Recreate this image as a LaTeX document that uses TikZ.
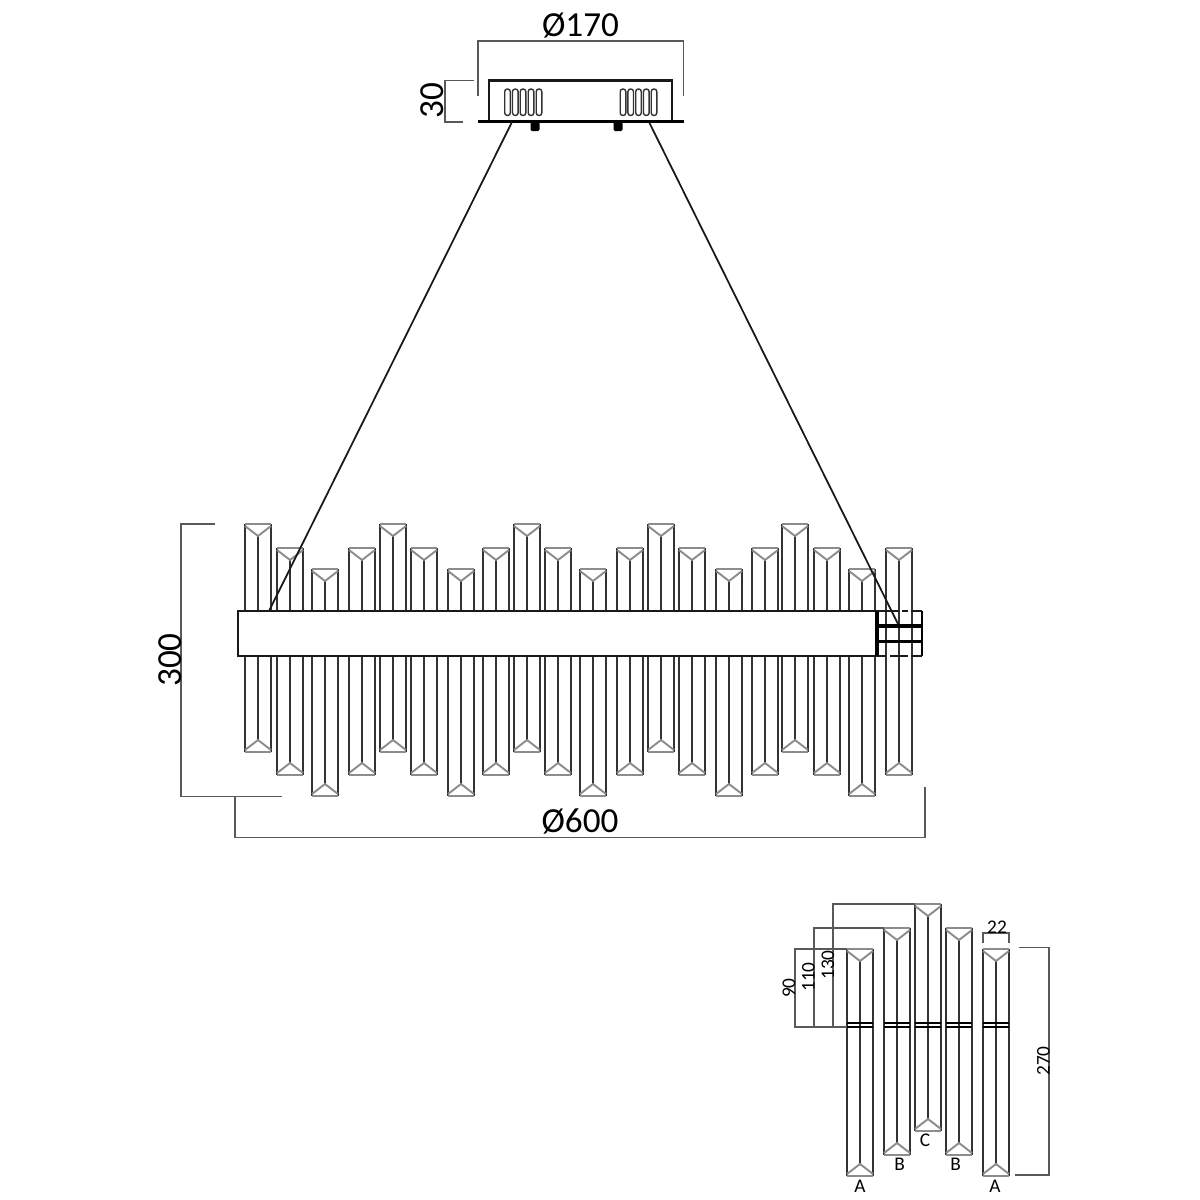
\documentclass[tikz,border=0pt]{standalone}
\usepackage{fontspec}
\setmainfont{Carlito}

% one crystal: left edge, top, bottom
\newcommand{\crystalRod}[3]{
  \draw[rodsty] (#1,#2) -- (#1,#3);
  \draw[rodsty] (#1+26,#2) -- (#1+26,#3);
  \draw[rodsty] (#1+13,#2+12) -- (#1+13,#3-12);
  \draw[tipsty] (#1,#2) -- (#1+26,#2);
  \draw[tipsty] (#1,#3) -- (#1+26,#3);
  \draw[tipsty] (#1,#2+2) -- (#1+13,#2+12) -- (#1+26,#2+2);
  \draw[tipsty] (#1,#3-2) -- (#1+13,#3-12) -- (#1+26,#3-2);
}

\begin{document}
\begin{tikzpicture}[
  x=0.01cm, y=-0.01cm,
  rodsty/.style={draw=black!80, line width=0.5pt},
  tipsty/.style={draw=black!45, line width=0.55pt},
  hubsty/.style={fill=white, draw=black!90, line width=0.6pt},
  thicksty/.style={draw=black, line width=1pt},
  cablesty/.style={draw=black!90, line width=0.5pt},
  dimsty/.style={draw=black!65, line width=0.45pt},
  bigtext/.style={font=\fontsize{10}{12}\selectfont, inner sep=0pt},
  smalltext/.style={font=\fontsize{5.5}{6}\selectfont, inner sep=0pt}]

\useasboundingbox (0,0) rectangle (1200,1200);

% long rods of the lamp
\foreach \rx/\rtop/\rbot in {245/524/752, 277/548/775, 312/569/796, 349/548/775, 380/524/752,
  411/548/775, 448/569/796, 483/548/775, 514/524/752, 545/548/775, 580/569/796, 617/548/775,
  648/524/752, 679/548/775, 716/569/796, 752/548/775, 782/524/752, 814/548/775, 849/569/796,
  886/548/775}
  {\crystalRod{\rx}{\rtop}{\rbot}}

% hub
\draw[hubsty] (238,611) rectangle (877,656);
\draw[thicksty] (877,611) -- (877,656);
\draw[thicksty, line width=0.8pt] (922,611) -- (922,656);
\draw[thicksty] (877,626) -- (922,626);
\draw[thicksty] (877,641.5) -- (922,641.5);
\draw[hubsty] (877,611) -- (899,611) (902,611) -- (908,611) (911,611) -- (922,611);
\draw[hubsty] (877,656) -- (886,656) (890,656) -- (908,656) (911,656) -- (922,656);

% ceiling plate
\draw[hubsty] (489,121) -- (489,80.5) -- (672,80.5) -- (672,121);
\draw[line width=1.1pt] (477.5,121.5) -- (684,121.5);
\foreach \sx in {507.5,515.3,523,531,539,623,630.7,638.5,646.3,654}
  {\draw[rodsty, rounded corners=0.75pt, line width=0.4pt] (\sx-2.8,89) rectangle (\sx+2.8,115.5);}
\foreach \kx in {535,618}
  {\fill[black, rounded corners=0.4pt] (\kx-4.5,122) rectangle (\kx+4.5,131);}

% cables
\draw[cablesty] (512,122) -- (269,611);
\draw[cablesty] (649,122) -- (898,624);

% dimensions of the lamp
\draw[dimsty] (478,96) -- (478,41) -- (683.5,41) -- (683.5,96);
\node[bigtext] (dia170) at (580.5,26) {Ø170};
\draw[dimsty] (474,80.5) -- (445,80.5) -- (445,122) -- (463,122);
\node[bigtext, rotate=90] (ht30) at (432,101) {30};
\draw[dimsty] (215,524) -- (181,524) -- (181,796.5) -- (282,796.5);
\node[bigtext, rotate=90] (ht300) at (170,660) {300};
\draw[dimsty] (235,796.5) -- (235,837.5) -- (925,837.5) -- (925,787);
\node[bigtext] (dia600) at (580,821) {Ø600};

% detail of the rods
\foreach \rx/\rtop/\rbot in {847/949/1176, 884/928/1155, 915/904/1131, 946/928/1155, 983/949/1176}
  {\crystalRod{\rx}{\rtop}{\rbot}
   \draw[thicksty, line width=0.8pt] (\rx,1023) -- (\rx+26,1023);
   \draw[thicksty, line width=0.8pt] (\rx,1027) -- (\rx+26,1027);}

\draw[dimsty] (847,949) -- (795,949) -- (795,1027) -- (847,1027);
\draw[dimsty] (884,928) -- (814,928) -- (814,1027);
\draw[dimsty] (915,904) -- (833,904) -- (833,1027);
\draw[dimsty] (983,943) -- (983,933) -- (1009,933) -- (1009,943);
\draw[dimsty] (1019,947.5) -- (1049,947.5) -- (1049,1175) -- (1015,1175);

\node[smalltext, rotate=90] (ht90) at (789,988) {90};
\node[smalltext, rotate=90] (ht110) at (808.5,977) {110};
\node[smalltext, rotate=90] (ht130) at (828,965) {130};
\node[smalltext] (wd22) at (997,927) {22};
\node[smalltext, rotate=90] (ht270) at (1043.5,1061) {270};

\node[smalltext] (lblA1) at (860,1186) {A};
\node[smalltext] (lblB1) at (899.5,1164) {B};
\node[smalltext] (lblC) at (925,1140) {C};
\node[smalltext] (lblB2) at (955.5,1164) {B};
\node[smalltext] (lblA2) at (995,1186) {A};

\end{tikzpicture}
\end{document}
